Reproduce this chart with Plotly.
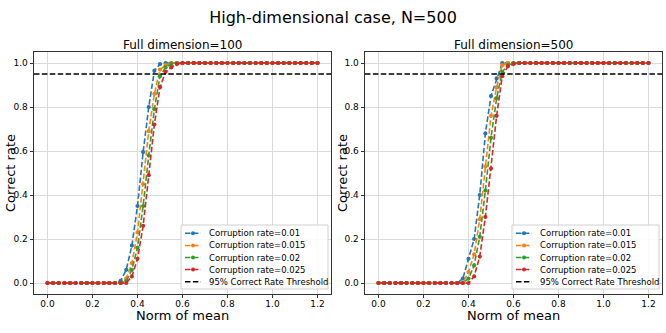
import numpy as np
import plotly.graph_objects as go

# norm of mean grid, step 0.025 from 0 to 1.2
norm_mean = np.round(np.linspace(0, 1.2, 49), 3)

rates = ['0.01', '0.015', '0.02', '0.025']
colors = ['#1f77b4', '#ff7f0e', '#2ca02c', '#d62728']
threshold = 0.95
threshold_label = '95% Correct Rate Threshold'

# Full dimension = 100
d100_r01 = [0, 0, 0, 0, 0, 0, 0, 0, 0, 0, 0, 0, 0, 0.01, 0.06, 0.17, 0.35, 0.595, 0.80, 0.965, 0.995,
            1, 1, 1, 1, 1, 1, 1, 1, 1, 1, 1, 1, 1, 1, 1, 1, 1, 1, 1, 1, 1, 1, 1, 1, 1, 1, 1, 1]
d100_r015 = [0, 0, 0, 0, 0, 0, 0, 0, 0, 0, 0, 0, 0, 0, 0.02, 0.09, 0.23, 0.45, 0.69, 0.86, 0.97,
             0.99, 1, 1, 1, 1, 1, 1, 1, 1, 1, 1, 1, 1, 1, 1, 1, 1, 1, 1, 1, 1, 1, 1, 1, 1, 1, 1, 1]
d100_r02 = [0, 0, 0, 0, 0, 0, 0, 0, 0, 0, 0, 0, 0, 0, 0.01, 0.06, 0.16, 0.35, 0.58, 0.79, 0.94,
            0.98, 0.995, 1, 1, 1, 1, 1, 1, 1, 1, 1, 1, 1, 1, 1, 1, 1, 1, 1, 1, 1, 1, 1, 1, 1, 1, 1, 1]
d100_r025 = [0, 0, 0, 0, 0, 0, 0, 0, 0, 0, 0, 0, 0, 0, 0, 0.03, 0.11, 0.26, 0.49, 0.72, 0.89,
             0.96, 0.98, 0.995, 1, 1, 1, 1, 1, 1, 1, 1, 1, 1, 1, 1, 1, 1, 1, 1, 1, 1, 1, 1, 1, 1, 1, 1, 1]

# Full dimension = 500
d500_r01 = [0, 0, 0, 0, 0, 0, 0, 0, 0, 0, 0, 0, 0, 0, 0, 0.02, 0.11, 0.20, 0.40, 0.68, 0.85,
            0.93, 1, 1, 1, 1, 1, 1, 1, 1, 1, 1, 1, 1, 1, 1, 1, 1, 1, 1, 1, 1, 1, 1, 1, 1, 1, 1, 1]
d500_r015 = [0, 0, 0, 0, 0, 0, 0, 0, 0, 0, 0, 0, 0, 0, 0, 0, 0.05, 0.13, 0.29, 0.53, 0.76,
             0.89, 0.99, 1, 1, 1, 1, 1, 1, 1, 1, 1, 1, 1, 1, 1, 1, 1, 1, 1, 1, 1, 1, 1, 1, 1, 1, 1, 1]
d500_r02 = [0, 0, 0, 0, 0, 0, 0, 0, 0, 0, 0, 0, 0, 0, 0, 0, 0.02, 0.08, 0.21, 0.42, 0.66,
            0.84, 0.96, 0.99, 1, 1, 1, 1, 1, 1, 1, 1, 1, 1, 1, 1, 1, 1, 1, 1, 1, 1, 1, 1, 1, 1, 1, 1, 1]
d500_r025 = [0, 0, 0, 0, 0, 0, 0, 0, 0, 0, 0, 0, 0, 0, 0, 0, 0, 0.03, 0.12, 0.30, 0.52,
             0.76, 0.94, 0.985, 0.995, 1, 1, 1, 1, 1, 1, 1, 1, 1, 1, 1, 1, 1, 1, 1, 1, 1, 1, 1, 1, 1, 1, 1, 1]

panels = [
    ('Full dimension=100', [d100_r01, d100_r015, d100_r02, d100_r025]),
    ('Full dimension=500', [d500_r01, d500_r015, d500_r02, d500_r025]),
]

W, H = 666, 333
font = 'DejaVu Sans'
DASH = '5.5px,2.4px'
ax_px = [(34, 331), (365, 662)]   # left/right edges of each axes box in pixels
top_px, bot_px = 52, 294
y_dom = [1 - bot_px / H, 1 - top_px / H]

def px(x):
    return x / W

def py(y):
    return 1 - y / H

fig = go.Figure()
annotations = []
shapes = []

for p, (title, series) in enumerate(panels):
    sfx = '' if p == 0 else str(p + 1)
    L, R = ax_px[p]
    for k, (rate, ys) in enumerate(zip(rates, series)):
        fig.add_trace(go.Scatter(
            x=norm_mean, y=ys, mode='lines+markers',
            name='Corruption rate=' + rate, showlegend=False,
            line=dict(color=colors[k], width=1.6, dash=DASH),
            marker=dict(color=colors[k], size=4.2),
            xaxis='x' + sfx, yaxis='y' + sfx))
    shapes.append(dict(
        type='line', xref='x' + sfx + ' domain', yref='y' + sfx,
        x0=0, x1=1, y0=threshold, y1=threshold,
        line=dict(color='black', width=1.5, dash=DASH)))

    axis_common = dict(
        showline=True, mirror=True, linecolor='#333', linewidth=0.8,
        ticks='outside', ticklen=3.5, tickwidth=0.8, tickcolor='#333',
        showgrid=True, gridcolor='#dadada', gridwidth=0.8, zeroline=False,
        tickfont=dict(family=font, size=9, color='black'), dtick=0.2, tickformat='.1f')
    fig.update_layout({
        'xaxis' + sfx: dict(axis_common, domain=[px(L), px(R)], range=[-0.06, 1.26],
                            anchor='y' + sfx, ticklabelstandoff=-2),
        'yaxis' + sfx: dict(axis_common, domain=y_dom, range=[-0.05, 1.05],
                            anchor='x' + sfx),
    })

    # legend box in the lower right (matplotlib style)
    shapes.append(dict(type='rect', xref='paper', yref='paper', layer='above',
                       x0=px(R - 150), x1=px(R - 3), y0=py(bot_px - 5), y1=py(225),
                       line=dict(color='#d0d0d0', width=1), fillcolor='rgba(255,255,255,0.85)'))
    labels = ['Corruption rate=' + r for r in rates] + [threshold_label]
    lcolors = colors + ['black']
    for i, (lab, c) in enumerate(zip(labels, lcolors)):
        yy = 233.3 + i * 12.1
        shapes.append(dict(type='line', xref='paper', yref='paper', layer='above',
                           x0=px(R - 146), x1=px(R - 130), y0=py(yy), y1=py(yy),
                           line=dict(color=c, width=1.5, dash=DASH)))
        if i < 4:
            shapes.append(dict(type='circle', xref='paper', yref='paper', layer='above',
                               x0=px(R - 140), x1=px(R - 136), y0=py(yy + 2), y1=py(yy - 2),
                               line=dict(width=0), fillcolor=c))
        annotations.append(dict(text=lab, x=px(R - 124), y=py(yy), xref='paper', yref='paper',
                                xanchor='left', yanchor='middle', showarrow=False,
                                font=dict(family=font, size=8.5, color='black')))

    cx = px((L + R) / 2)
    annotations.append(dict(text=title, x=cx, y=y_dom[1], xref='paper', yref='paper',
                            xanchor='center', yanchor='bottom', yshift=-2, showarrow=False,
                            font=dict(family=font, size=12, color='black')))
    annotations.append(dict(text='Norm of mean', x=cx, y=py(315), xref='paper', yref='paper',
                            xanchor='center', yanchor='middle', showarrow=False, borderpad=0,
                            font=dict(family=font, size=13, color='black')))
    annotations.append(dict(text='Correct rate', x=px(11 if p == 0 else 343),
                            y=(y_dom[0] + y_dom[1]) / 2, xref='paper', yref='paper',
                            xanchor='center', yanchor='middle', textangle=-90, showarrow=False,
                            font=dict(family=font, size=13, color='black')))

fig.update_layout(
    width=W, height=H, margin=dict(l=0, r=0, t=0, b=0),
    paper_bgcolor='white', plot_bgcolor='white', showlegend=False,
    title=dict(text='High-dimensional case, N=500', x=0.5, xanchor='center',
               y=1 - 17 / H, yanchor='middle', yref='container',
               font=dict(family=font, size=16, color='black')),
    annotations=annotations, shapes=shapes,
)

fig.write_html("out.html", config={'displayModeBar': False},
               post_script="document.body.style.margin='0px';")
